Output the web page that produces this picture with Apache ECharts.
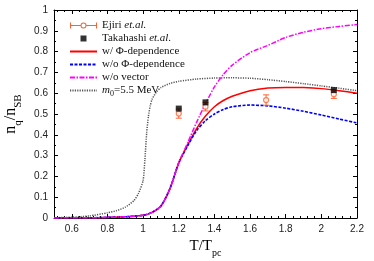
<!DOCTYPE html>
<html>
<head>
<meta charset="utf-8">
<script src="https://cdn.jsdelivr.net/npm/echarts@6/dist/echarts.min.js"></script>
<style>html,body{margin:0;padding:0;background:#fff}#c{width:374px;height:261px}</style>
</head>
<body>
<div id="c"></div>
<script>
// ---- data ----
var commonT = [0.5, 0.6, 0.7, 0.8, 0.9, 1.0, 1.05, 1.1, 1.15, 1.2];
var commonV = [0.000, 0.001, 0.001, 0.003, 0.006, 0.013, 0.027, 0.058, 0.14, 0.265];
var hiT = [1.25, 1.3, 1.35, 1.4, 1.45, 1.5, 1.6, 1.7, 1.8, 1.9, 2.0, 2.1, 2.2];
var withPhi   = [0.352, 0.430, 0.490, 0.535, 0.565, 0.585, 0.612, 0.625, 0.628, 0.627, 0.622, 0.612, 0.600];
var withoutPhi= [0.347, 0.420, 0.468, 0.500, 0.522, 0.535, 0.543, 0.539, 0.528, 0.513, 0.495, 0.476, 0.457];
var noVector  = [0.362, 0.460, 0.550, 0.630, 0.690, 0.735, 0.795, 0.830, 0.868, 0.893, 0.910, 0.921, 0.930];
var m0T = [0.5, 0.6, 0.7, 0.8, 0.85, 0.9, 0.95, 0.975, 1.0, 1.01, 1.02, 1.03, 1.04, 1.05, 1.075, 1.1, 1.15, 1.2, 1.3, 1.4, 1.5, 1.6, 1.7, 1.8, 1.9, 2.0, 2.1, 2.2];
var m0V = [0.001, 0.004, 0.010, 0.025, 0.035, 0.052, 0.085, 0.12, 0.18, 0.28, 0.41, 0.49, 0.54, 0.57, 0.607, 0.627, 0.647, 0.657, 0.668, 0.673, 0.674, 0.672, 0.665, 0.656, 0.646, 0.635, 0.624, 0.612];
var ejiriT = [1.2, 1.35, 1.69, 2.07];
var ejiriV = [0.502, 0.535, 0.567, 0.595];
var ejiriErr = [0.022, 0.02, 0.025, 0.02];
var takaT = [1.2, 1.35, 2.07];
var takaV = [0.526, 0.556, 0.615];
var xTickLabels = [0.6, 0.8, 1, 1.2, 1.4, 1.6, 1.8, 2, 2.2];
var yTickLabels = [0, 0.1, 0.2, 0.3, 0.4, 0.5, 0.6, 0.7, 0.8, 0.9, 1];

// ---- build ----
function pairs(t, v) { return t.map(function (x, i) { return [x, v[i]]; }); }
function joined(v) { return pairs(commonT, commonV).concat(pairs(hiT, v)); }
var xMinor = [];
for (var i = 0; ; i++) { var mv = Math.round((0.52 + 0.04 * i) * 100) / 100; if (mv > 2.2) break; xMinor.push(mv); }

var ORANGE = '#ff6030';
var SERIF = 'Liberation Serif';
var SANS = 'Liberation Sans';

function xAx(pos, ticks, len, line, labels) {
  return {
    type: 'value', min: 0.5, max: 2.2, position: pos,
    axisLine: { show: line, onZero: false, lineStyle: { color: '#000', width: 1 } },
    axisTick: { show: true, inside: true, length: len, customValues: ticks, lineStyle: { color: '#000' } },
    axisLabel: { show: labels, customValues: xTickLabels, margin: 6, fontFamily: SANS, fontSize: 10, color: '#222' },
    splitLine: { show: false }
  };
}
function yAx(pos, labels) {
  return {
    type: 'value', min: 0, max: 1, interval: 0.1, position: pos,
    axisLine: { show: true, onZero: false, lineStyle: { color: '#000', width: 1 } },
    axisTick: { show: true, inside: true, length: 4, lineStyle: { color: '#000' } },
    minorTick: { show: true, splitNumber: 2, length: 2, lineStyle: { color: '#000' } },
    axisLabel: { show: labels, margin: 6, fontFamily: SANS, fontSize: 10, color: '#222' },
    splitLine: { show: false }
  };
}

var xAxes = [xAx('bottom', xTickLabels, 4, true, true), xAx('bottom', xMinor, 2, false, false),
             xAx('top', xTickLabels, 4, true, false), xAx('top', xMinor, 2, false, false)];
xAxes[0].name = '{a|T/T}{b|pc}';
xAxes[0].nameLocation = 'middle';
xAxes[0].nameGap = 18;
xAxes[0].nameTextStyle = { rich: {
  a: { fontFamily: SERIF, fontSize: 15, color: '#000', verticalAlign: 'top', lineHeight: 15 },
  b: { fontFamily: SERIF, fontSize: 10, color: '#000', verticalAlign: 'bottom', lineHeight: 19 } } };
var yAxes = [yAx('left', true), yAx('right', false)];
yAxes[0].name = '{a|n}{b|q}{a|/n}{b|SB}';
yAxes[0].nameLocation = 'middle';
yAxes[0].nameGap = 21;
yAxes[0].nameTextStyle = { rich: {
  a: { fontFamily: SERIF, fontSize: 16, color: '#000', verticalAlign: 'top', lineHeight: 16 },
  b: { fontFamily: SERIF, fontSize: 11, color: '#000', verticalAlign: 'bottom', lineHeight: 20 } } };

var ejiriIcon = 'path://M0 0M27 9M0 4h10.5v1h-10.5zM16.5 4h10.5v1h-10.5zM0 1.5h1v6h-1zM26 1.5h1v6h-1zM16.5 4.5A3 3 0 1 1 10.5 4.5A3 3 0 1 1 16.5 4.5ZM15.5 4.5A2 2 0 1 0 11.5 4.5A2 2 0 1 0 15.5 4.5Z';
var takaIcon = 'path://M0 0M27 9M10.5 1.5h6v6h-6z';

var names = {
  'Ejiri': '{n|Ejiri }{i|et.al.}',
  'Takahashi': '{n|Takahashi }{i|et.al.}',
  'phi': '{n|w/ Φ-dependence}',
  'nophi': '{n|w/o Φ-dependence}',
  'novec': '{n|w/o vector}',
  'm0': '{i|m}{s|0}{n|=5.5 MeV}'
};
var hideSym = { opacity: 0, borderWidth: 0 };
var SM = 0.25;

var option = {
  animation: false,
  backgroundColor: '#fff',
  grid: { left: 54, right: 17, top: 10, bottom: 43, outerBoundsMode: 'none', containLabel: false },
  xAxis: xAxes,
  yAxis: yAxes,
  legend: {
    orient: 'vertical', left: 64, top: 15, itemWidth: 27, itemHeight: 9, itemGap: 2,
    selectedMode: false,
    formatter: function (n) { return names[n]; },
    textStyle: { fontFamily: SERIF, fontSize: 11, color: '#111',
      rich: {
        n: { fontFamily: SERIF, fontSize: 11, color: '#111' },
        i: { fontFamily: SERIF, fontSize: 11, color: '#111', fontStyle: 'italic' },
        s: { fontFamily: SERIF, fontSize: 8, color: '#111', verticalAlign: 'bottom', lineHeight: 15 }
      } },
    data: [
      { name: 'Ejiri', icon: ejiriIcon, itemStyle: { color: ORANGE, borderWidth: 0 } },
      { name: 'Takahashi', icon: takaIcon, itemStyle: { color: '#000' } },
      { name: 'phi', itemStyle: hideSym },
      { name: 'nophi', itemStyle: hideSym },
      { name: 'novec', itemStyle: hideSym },
      { name: 'm0', itemStyle: hideSym }
    ]
  },
  series: [
    { name: 'm0', type: 'line', symbol: 'none', smooth: 0.2, data: pairs(m0T, m0V),
      lineStyle: { color: '#555', width: 1.5, type: [1.2, 1.2] }, itemStyle: { color: '#555' }, z: 2 },
    { name: 'phi', type: 'line', symbol: 'none', smooth: SM, data: joined(withPhi),
      lineStyle: { color: '#ff0000', width: 1.5 }, itemStyle: { color: '#ff0000' }, z: 3 },
    { name: 'nophi', type: 'line', symbol: 'none', smooth: SM, data: joined(withoutPhi),
      lineStyle: { color: '#0000ff', width: 1.6, type: [3, 1.5] }, itemStyle: { color: '#0000ff' }, z: 4 },
    { name: 'novec', type: 'line', symbol: 'none', smooth: SM, data: joined(noVector),
      lineStyle: { color: '#ff00ff', width: 1.5, type: [5, 1.5, 1.5, 1.5] }, itemStyle: { color: '#ff00ff' }, z: 5 },
    { name: 'Ejiri', type: 'custom', z: 6,
      data: ejiriT.map(function (t, i) { return [t, ejiriV[i], ejiriErr[i]]; }),
      renderItem: function (params, api) {
        var x = api.value(0), y = api.value(1), e = api.value(2);
        var top = api.coord([x, y + e]), bot = api.coord([x, y - e]);
        var st = { stroke: ORANGE, lineWidth: 1 };
        return { type: 'group', children: [
          { type: 'line', shape: { x1: top[0], y1: top[1], x2: bot[0], y2: bot[1] }, style: st },
          { type: 'line', shape: { x1: top[0] - 3, y1: top[1], x2: top[0] + 3, y2: top[1] }, style: st },
          { type: 'line', shape: { x1: bot[0] - 3, y1: bot[1], x2: bot[0] + 3, y2: bot[1] }, style: st }
        ] };
      } },
    { name: 'Ejiri', type: 'scatter', symbol: 'circle', symbolSize: 5, z: 7,
      data: pairs(ejiriT, ejiriV),
      itemStyle: { color: '#fff', borderColor: ORANGE, borderWidth: 1.2 } },
    { name: 'Takahashi', type: 'scatter', symbol: 'rect', symbolSize: 6, z: 8,
      data: pairs(takaT, takaV), itemStyle: { color: '#000' } }
  ]
};
var chart = echarts.init(document.getElementById('c'), null, { renderer: 'canvas' });
chart.setOption(option);
</script>
</body>
</html>
